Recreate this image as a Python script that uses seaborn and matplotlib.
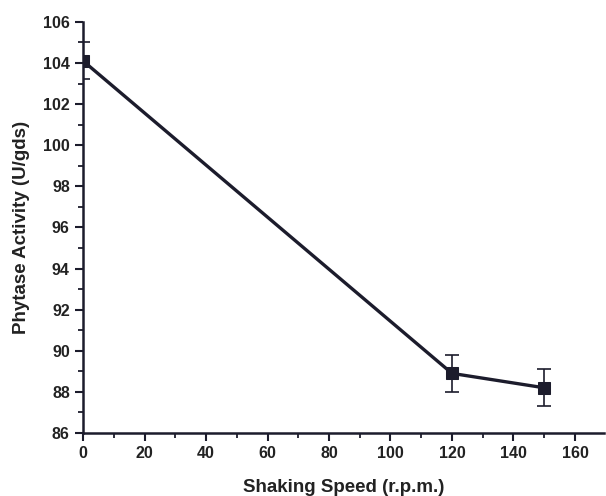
import matplotlib
matplotlib.use("Agg")
import pandas as pd
import seaborn as sns
import matplotlib.pyplot as plt
from matplotlib.ticker import MultipleLocator

# Data
speed = [0, 120, 150]
activity = [104.1, 88.9, 88.2]
error = [0.9, 0.9, 0.9]

df = pd.DataFrame({"speed": speed, "activity": activity, "error": error})

sns.set_style("ticks")
plt.rcParams["font.family"] = ["Liberation Sans", "DejaVu Sans"]
plt.rcParams["font.weight"] = "bold"

color = "#1c1c2c"

fig = plt.figure(figsize=(6.06, 4.96), dpi=100)
ax = fig.add_axes([0.137, 0.127, 0.86, 0.829])

sns.lineplot(x="speed", y="activity", data=df, color=color, linewidth=2.4,
             marker="s", markersize=8.5, markeredgecolor=color, ax=ax)
ax.errorbar(df["speed"], df["activity"], yerr=df["error"], fmt="none",
            ecolor=color, elinewidth=1.2, capsize=5, capthick=1.2)

ax.set_xlim(0, 169.5)
ax.set_ylim(86, 106)
ax.xaxis.set_major_locator(MultipleLocator(20))
ax.xaxis.set_minor_locator(MultipleLocator(10))
ax.yaxis.set_major_locator(MultipleLocator(2))
ax.yaxis.set_minor_locator(MultipleLocator(1))
ax.tick_params(which="major", direction="out", length=6, width=1.5, colors=color,
               labelsize=11.5, labelcolor="#222222")
ax.tick_params(which="minor", direction="out", length=3.5, width=1.3, colors=color)
for lbl in ax.get_xticklabels() + ax.get_yticklabels():
    lbl.set_fontweight("bold")

sns.despine(ax=ax)
for s in ["left", "bottom"]:
    ax.spines[s].set_linewidth(1.8)
    ax.spines[s].set_color(color)

ax.set_xlabel("Shaking Speed (r.p.m.)", fontsize=13.5, fontweight="bold", color="#222222", labelpad=13)
ax.set_ylabel("Phytase Activity (U/gds)", fontsize=13.5, fontweight="bold", color="#222222", labelpad=9)

fig.savefig("out.png", dpi=100)
